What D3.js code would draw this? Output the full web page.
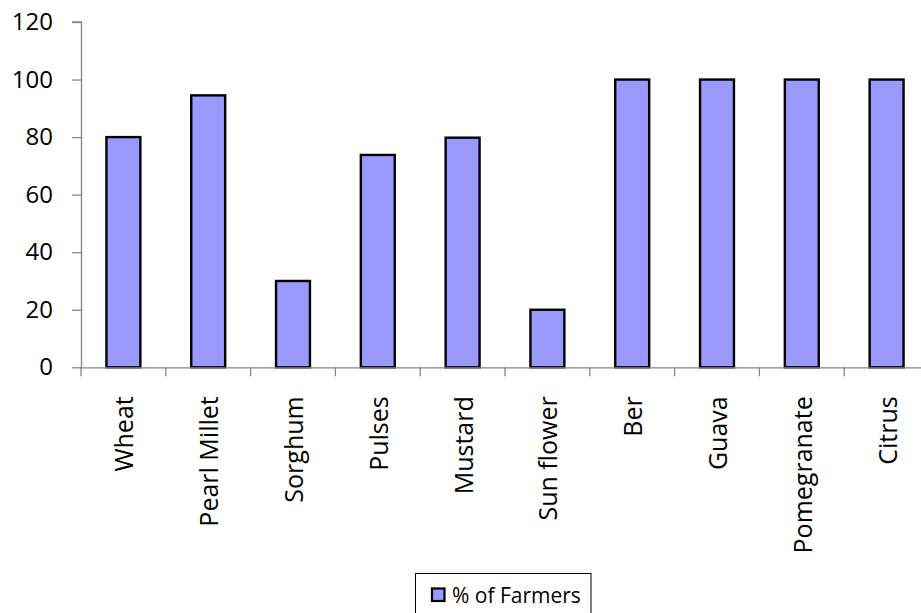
<!DOCTYPE html>
<html>
<head>
<meta charset="utf-8">
<script src="https://cdn.jsdelivr.net/npm/d3@7"></script>
<style>
  html, body { margin: 0; padding: 0; background: #fff; overflow: hidden; }
  svg { display: block; font-family: "Open Sans", Lato, sans-serif; }
</style>
</head>
<body>
<svg id="chart" width="921" height="613"></svg>
<script>
const categories = ["Wheat", "Pearl Millet", "Sorghum", "Pulses", "Mustard", "Sun flower", "Ber", "Guava", "Pomegranate", "Citrus"];
const farmersPct = [80, 94.5, 30, 73.8, 79.8, 20, 100, 100, 100, 100];
const yTicks = [0, 20, 40, 60, 80, 100, 120];
const seriesName = "% of Farmers";

const svg = d3.select("#chart");
const plotLeft = 81, plotRight = 929, plotTop = 22, plotBottom = 367.3;

const x = d3.scaleBand().domain(categories).range([plotLeft, plotRight]).paddingInner(0.6).paddingOuter(0.3);
const xTick = d3.scaleBand().domain(categories).range([plotLeft, plotRight]).padding(0);
const y = d3.scaleLinear().domain([0, 120]).range([plotBottom, plotTop]);

const data = categories.map((c, i) => ({ c, v: farmersPct[i] }));

// bars
svg.append("g").selectAll("rect").data(data).join("rect")
  .attr("x", d => x(d.c))
  .attr("y", d => y(d.v))
  .attr("width", x.bandwidth())
  .attr("height", d => y(0) - y(d.v))
  .attr("fill", "#9999ff")
  .attr("stroke", "#000")
  .attr("stroke-width", 2.4);

// y axis
const yAxis = svg.append("g").attr("transform", `translate(${plotLeft},0)`)
  .call(d3.axisLeft(y).tickValues(yTicks).tickSize(9).tickPadding(19).tickFormat(d3.format("d")));
yAxis.select(".domain").attr("stroke", "#868686").attr("stroke-width", 1.3).attr("d", `M-9,${y(120)}H0.5V${y(0)}`);
yAxis.selectAll(".tick line").attr("stroke", "#868686").attr("stroke-width", 1.3);
yAxis.selectAll(".tick text").attr("font-size", 24).attr("fill", "#000").attr("font-family", "'Open Sans', sans-serif");

// x axis
const xAxis = svg.append("g").attr("transform", `translate(0,${plotBottom})`)
  .call(d3.axisBottom(xTick).tickSize(0).tickFormat(""));
xAxis.select(".domain").attr("stroke", "#868686").attr("stroke-width", 1.3).attr("d", `M${plotLeft},0.5H${plotRight}`);
xAxis.selectAll(".tick").remove();
const boundaries = categories.map(c => xTick(c)).concat([plotRight]);
xAxis.selectAll("line.bt").data(boundaries).join("line")
  .attr("class", "bt")
  .attr("x1", d => d).attr("x2", d => d)
  .attr("y1", 0).attr("y2", 9)
  .attr("stroke", "#868686").attr("stroke-width", 1.3);

// category labels rotated
svg.append("g").selectAll("text").data(categories).join("text")
  .attr("transform", d => `translate(${xTick(d) + xTick.bandwidth() / 2 + 10},${plotBottom + 29}) rotate(-90)`)
  .attr("text-anchor", "end")
  .attr("font-size", 25)
  .attr("fill", "#000")
  .text(d => d);

// legend
const lg = svg.append("g");
lg.append("rect").attr("x", 415.5).attr("y", 573.5).attr("width", 175.5).attr("height", 50)
  .attr("fill", "#fff").attr("stroke", "#000").attr("stroke-width", 1);
lg.append("rect").attr("x", 432).attr("y", 588.5).attr("width", 12.5).attr("height", 12.5)
  .attr("fill", "#9999ff").attr("stroke", "#000").attr("stroke-width", 2.2);
lg.append("text").attr("x", 452).attr("y", 602.5).attr("font-size", 21).attr("fill", "#000").text(seriesName);
</script>
</body>
</html>
